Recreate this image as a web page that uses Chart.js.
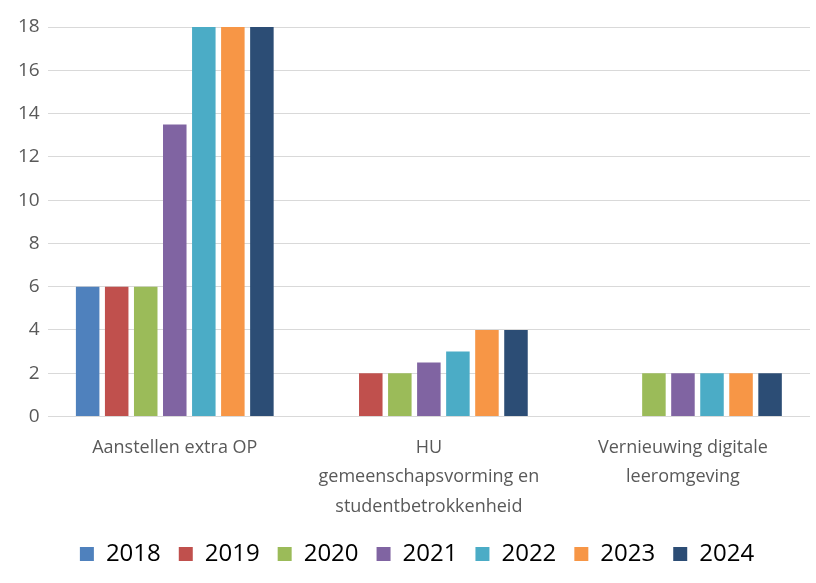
<!DOCTYPE html>
<html>
<head>
<meta charset="utf-8">
<script src="https://cdn.jsdelivr.net/npm/chart.js@4.4.1/dist/chart.umd.min.js"></script>
<style>
  html, body { margin: 0; padding: 0; background: #fff; }
  #wrap { width: 816px; height: 583px; }
</style>
</head>
<body>
<div id="wrap"><canvas id="barChart"></canvas></div>
<script>
const categories = [
    "Aanstellen extra OP",
    ["HU", "gemeenschapsvorming en", "studentbetrokkenheid"],
    ["Vernieuwing digitale", "leeromgeving"]
];
const years = ["2018", "2019", "2020", "2021", "2022", "2023", "2024"];
const values2018 = [6, null, null];
const values2019 = [6, 2, null];
const values2020 = [6, 2, 2];
const values2021 = [13.5, 2.5, 2];
const values2022 = [18, 3, 2];
const values2023 = [18, 4, 2];
const values2024 = [18, 4, 2];
const yTicks = [0, 2, 4, 6, 8, 10, 12, 14, 16, 18];

const colors = ["#4F81BD", "#C0504D", "#9BBB59", "#8064A2", "#4BACC6", "#F79646", "#2C4D75"];
const series = [values2018, values2019, values2020, values2021, values2022, values2023, values2024];

// legend in the original sits a little right of centre
const legendShift = {
    id: "legendShift",
    afterLayout(chart) {
        chart.legend.left += 7;
        chart.legend.right += 7;
    }
};

const ctx = document.getElementById("barChart");

new Chart(ctx, {
    type: "bar",
    data: {
        labels: categories,
        datasets: years.map((y, i) => ({
            label: y,
            data: series[i],
            backgroundColor: colors[i],
            borderWidth: 0,
            categoryPercentage: 0.8,
            barPercentage: 0.81
        }))
    },
    options: {
        responsive: true,
        maintainAspectRatio: false,
        animation: false,
        layout: { padding: { left: 10, right: 6, top: 27, bottom: 7 } },
        plugins: {
            legend: {
                position: "bottom",
                labels: {
                    boxWidth: 14,
                    boxHeight: 14,
                    padding: 18,
                    color: "#000",
                    font: { family: "Open Sans", size: 24 }
                }
            },
            tooltip: { enabled: false }
        },
        scales: {
            x: {
                grid: { display: false, drawTicks: false },
                border: { display: false },
                ticks: {
                    color: "#595959",
                    font: { family: "Open Sans", size: 18, lineHeight: 1.62 },
                    padding: 17
                },
                // labels are top-aligned in their line boxes, drop the slack under the last line
                afterFit: scale => { scale.height -= 14; }
            },
            y: {
                min: 0,
                max: yTicks[yTicks.length - 1],
                afterBuildTicks: axis => { axis.ticks = yTicks.map(v => ({ value: v })); },
                grid: { color: "#D9D9D9", lineWidth: 1, drawTicks: false },
                border: { display: false },
                ticks: {
                    color: "#595959",
                    font: { family: "Open Sans", size: 19 },
                    padding: 8
                }
            }
        }
    },
    plugins: [legendShift]
});
</script>
</body>
</html>
